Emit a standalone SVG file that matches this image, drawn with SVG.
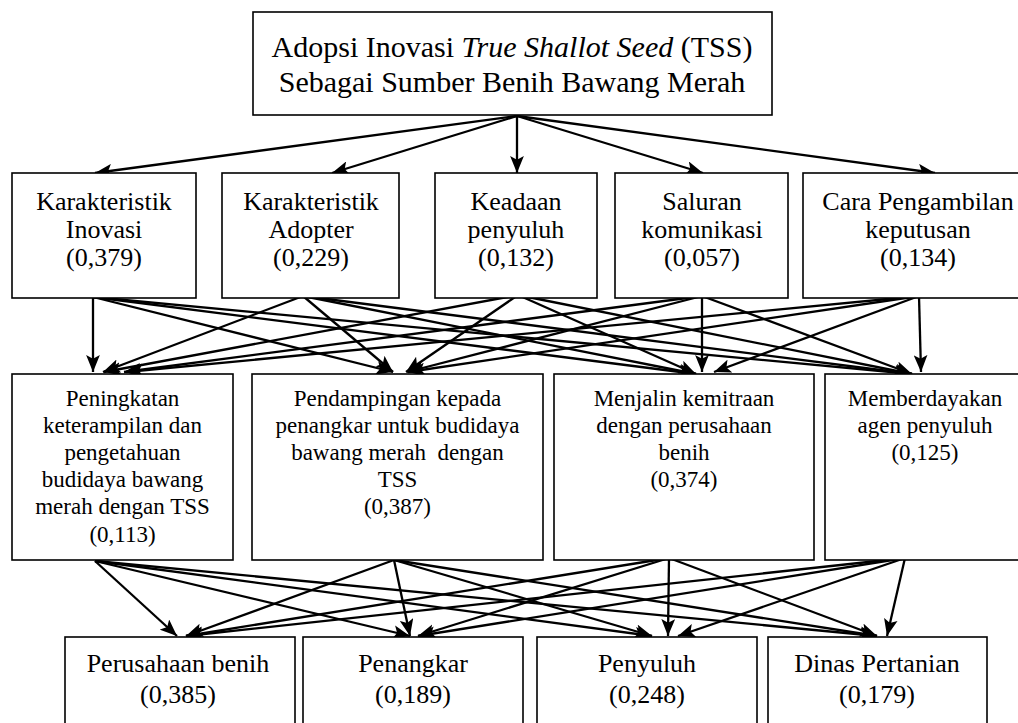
<svg xmlns="http://www.w3.org/2000/svg" width="1018" height="723" viewBox="0 0 1018 723">
<style>
.box{fill:#fff;stroke:#000;stroke-width:1.6}
text{font-family:"Liberation Serif","Times New Roman",serif;fill:#000;text-anchor:middle}
.t1{font-size:30px}
.t2{font-size:26px}
.t3{font-size:23px}
.t4{font-size:26px}
.c line{stroke:#000;stroke-width:2.3;marker-end:url(#ah)}
</style>
<defs>
<marker id="ah" markerUnits="userSpaceOnUse" markerWidth="18" markerHeight="14" refX="16" refY="6.5" orient="auto" viewBox="0 0 17 13">
<path d="M0,0 L16,6.5 L0,13 L3.5,6.5 Z" fill="#000"/>
</marker>
</defs>
<rect width="1018" height="723" fill="#fff"/>

<g id="connectors" class="c">
<line x1="517" y1="116" x2="95" y2="173"/>
<line x1="517" y1="116" x2="332" y2="173"/>
<line x1="517" y1="116" x2="517" y2="173"/>
<line x1="517" y1="116" x2="703" y2="173"/>
<line x1="517" y1="116" x2="935" y2="173"/>

<line x1="93" y1="297" x2="93" y2="372"/>
<line x1="93" y1="297" x2="393" y2="372"/>
<line x1="93" y1="297" x2="696" y2="374"/>
<line x1="93" y1="297" x2="912" y2="374"/>
<line x1="303" y1="296" x2="103" y2="372"/>
<line x1="303" y1="296" x2="393" y2="372"/>
<line x1="303" y1="296" x2="696" y2="374"/>
<line x1="303" y1="296" x2="912" y2="374"/>
<line x1="518" y1="295" x2="104" y2="372"/>
<line x1="518" y1="295" x2="406" y2="372"/>
<line x1="518" y1="295" x2="696" y2="374"/>
<line x1="518" y1="295" x2="912" y2="374"/>
<line x1="702" y1="296" x2="124" y2="372"/>
<line x1="702" y1="296" x2="407" y2="372"/>
<line x1="702" y1="296" x2="702" y2="372"/>
<line x1="702" y1="296" x2="912" y2="374"/>
<line x1="919" y1="296" x2="126" y2="372"/>
<line x1="919" y1="296" x2="408" y2="372"/>
<line x1="919" y1="296" x2="714" y2="372"/>
<line x1="919" y1="296" x2="921" y2="372"/>

<line x1="95" y1="561" x2="177" y2="636"/>
<line x1="95" y1="561" x2="410" y2="636"/>
<line x1="95" y1="561" x2="652" y2="636"/>
<line x1="95" y1="561" x2="877" y2="636"/>
<line x1="394" y1="560" x2="186" y2="636"/>
<line x1="394" y1="560" x2="410" y2="636"/>
<line x1="394" y1="560" x2="652" y2="636"/>
<line x1="394" y1="560" x2="877" y2="636"/>
<line x1="669" y1="558" x2="186" y2="636"/>
<line x1="669" y1="558" x2="418" y2="636"/>
<line x1="669" y1="558" x2="668" y2="636"/>
<line x1="669" y1="558" x2="877" y2="636"/>
<line x1="905" y1="558" x2="186" y2="636"/>
<line x1="905" y1="558" x2="418" y2="636"/>
<line x1="905" y1="558" x2="678" y2="636"/>
<line x1="905" y1="558" x2="887" y2="636"/>
</g>

<g id="goal">
<rect class="box" x="253" y="12" width="519" height="103"/>
<text class="t1" x="512" y="57">Adopsi Inovasi <tspan font-style="italic">True Shallot Seed</tspan> (TSS)</text>
<text class="t1" x="512" y="92">Sebagai Sumber Benih Bawang Merah</text>
</g>

<g id="k-inovasi">
<rect class="box" x="12" y="173" width="184" height="125"/>
<text class="t2" x="104" y="210">Karakteristik</text>
<text class="t2" x="104" y="238">Inovasi</text>
<text class="t2" x="104" y="266">(0,379)</text>
</g>
<g id="k-adopter">
<rect class="box" x="222" y="173" width="177" height="125"/>
<text class="t2" x="311" y="210">Karakteristik</text>
<text class="t2" x="311" y="238">Adopter</text>
<text class="t2" x="311" y="266">(0,229)</text>
</g>
<g id="keadaan">
<rect class="box" x="435" y="173" width="162" height="125"/>
<text class="t2" x="516" y="210">Keadaan</text>
<text class="t2" x="516" y="238">penyuluh</text>
<text class="t2" x="516" y="266">(0,132)</text>
</g>
<g id="saluran">
<rect class="box" x="615" y="173" width="173" height="125"/>
<text class="t2" x="702" y="210">Saluran</text>
<text class="t2" x="702" y="238">komunikasi</text>
<text class="t2" x="702" y="266">(0,057)</text>
</g>
<g id="cara">
<rect class="box" x="803" y="173" width="220" height="125"/>
<text class="t2" x="918" y="210">Cara Pengambilan</text>
<text class="t2" x="918" y="238">keputusan</text>
<text class="t2" x="918" y="266">(0,134)</text>
</g>

<g id="peningkatan">
<rect class="box" x="12" y="374" width="221" height="186"/>
<text class="t3" x="122.5" y="406">Peningkatan</text>
<text class="t3" x="122.5" y="433">keterampilan dan</text>
<text class="t3" x="122.5" y="460">pengetahuan</text>
<text class="t3" x="122.5" y="487">budidaya bawang</text>
<text class="t3" x="122.5" y="514">merah dengan TSS</text>
<text class="t3" x="122.5" y="542">(0,113)</text>
</g>
<g id="pendampingan">
<rect class="box" x="252" y="374" width="291" height="186"/>
<text class="t3" x="397.5" y="406">Pendampingan kepada</text>
<text class="t3" x="397.5" y="433">penangkar untuk budidaya</text>
<text class="t3" x="397.5" y="460" style="white-space:pre">bawang merah  dengan</text>
<text class="t3" x="397.5" y="487">TSS</text>
<text class="t3" x="397.5" y="514">(0,387)</text>
</g>
<g id="menjalin">
<rect class="box" x="554" y="374" width="260" height="186"/>
<text class="t3" x="684" y="406">Menjalin kemitraan</text>
<text class="t3" x="684" y="433">dengan perusahaan</text>
<text class="t3" x="684" y="460">benih</text>
<text class="t3" x="684" y="487">(0,374)</text>
</g>
<g id="memberdayakan">
<rect class="box" x="825" y="374" width="200" height="186"/>
<text class="t3" x="925" y="406">Memberdayakan</text>
<text class="t3" x="925" y="433">agen penyuluh</text>
<text class="t3" x="925" y="460">(0,125)</text>
</g>

<g id="perusahaan">
<rect class="box" x="65" y="637" width="230" height="100"/>
<text class="t4" x="178" y="672">Perusahaan benih</text>
<text class="t4" x="178" y="703">(0,385)</text>
</g>
<g id="penangkar">
<rect class="box" x="303" y="637" width="220" height="100"/>
<text class="t4" x="413" y="672">Penangkar</text>
<text class="t4" x="413" y="703">(0,189)</text>
</g>
<g id="penyuluh">
<rect class="box" x="537" y="637" width="220" height="100"/>
<text class="t4" x="647" y="672">Penyuluh</text>
<text class="t4" x="647" y="703">(0,248)</text>
</g>
<g id="dinas">
<rect class="box" x="768" y="637" width="219" height="100"/>
<text class="t4" x="877" y="672">Dinas Pertanian</text>
<text class="t4" x="877" y="703">(0,179)</text>
</g>
</svg>
